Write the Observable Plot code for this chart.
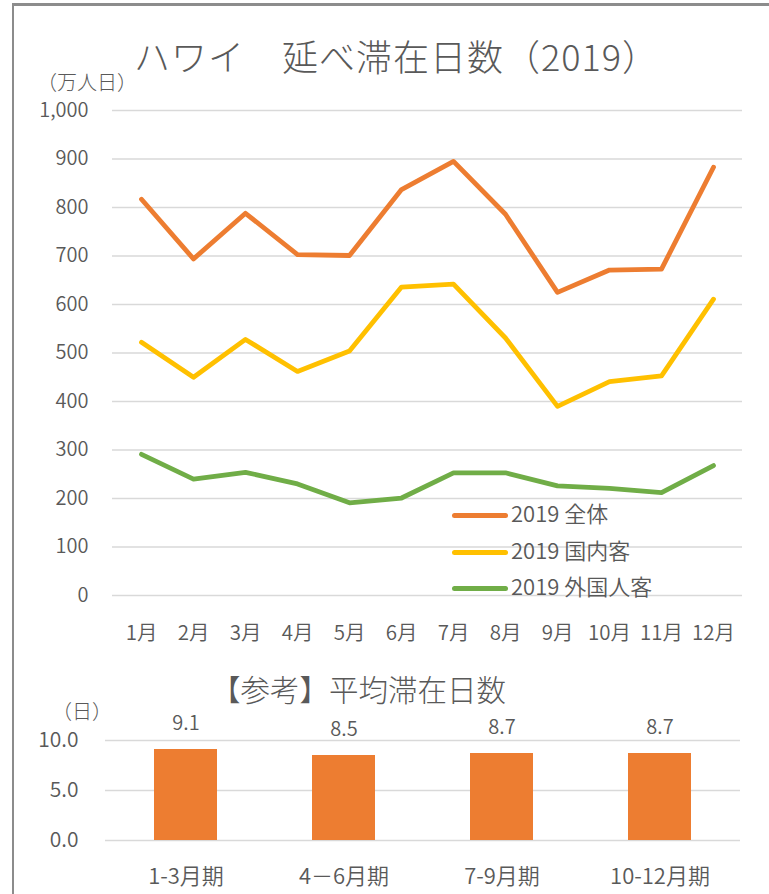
<!DOCTYPE html>
<html><head><meta charset="utf-8">
<script src="https://cdn.jsdelivr.net/npm/d3@7"></script>
<script src="https://cdn.jsdelivr.net/npm/@observablehq/plot@0.6"></script>
<style>
body{margin:0;background:#fff;overflow:hidden;}
#wrap{position:relative;width:769px;height:894px;overflow:hidden;font-family:"Noto Sans CJK JP","Noto Sans",sans-serif;font-weight:350;color:#595959;background:#fff;}
#frame{position:absolute;left:12px;top:3px;width:800px;height:900px;border-left:2.5px solid #8c8c8c;border-top:3px solid #8c8c8c;}
.abs{position:absolute;white-space:nowrap;}
#title{left:134px;top:34px;font-size:36px;line-height:42px;letter-spacing:1px;font-weight:300;}
#unit1{left:37px;top:71px;font-size:20px;line-height:21px;font-weight:300;}
#title2{left:211px;top:670px;font-size:29.5px;line-height:36px;font-weight:300;}
#unit2{left:52px;top:700px;font-size:20px;line-height:21px;font-weight:300;}
#top,#bottom{position:absolute;left:0;}
#top{top:0;}
#bottom{top:700px;}
.leg{position:absolute;left:452px;height:26px;line-height:26px;font-size:22px;white-space:nowrap;}
.sw{display:inline-block;width:56px;height:5px;border-radius:3px;vertical-align:middle;margin-right:3px;position:relative;top:-1px;}
svg text{font-weight:350;}
</style>
</head><body>
<div id="wrap">
  <div id="frame"></div>
  <div id="top"></div>
  <div id="bottom"></div>
  <div class="abs" id="title">ハワイ　延べ滞在日数（2019）</div>
  <div class="abs" id="unit1">（万人日）</div>
  <div id="legend"></div>
  <div class="abs" id="title2">【参考】平均滞在日数</div>
  <div class="abs" id="unit2">（日）</div>
</div>
<script>
const months = ["1月","2月","3月","4月","5月","6月","7月","8月","9月","10月","11月","12月"];
const seriesNames = ["2019 全体","2019 国内客","2019 外国人客"];
const seriesColors = ["#ED7D31","#FFC000","#70AD47"];
const total    = [817, 694, 788, 703, 701, 837, 895, 786, 625, 671, 673, 883];
const domestic = [522, 450, 528, 462, 504, 636, 642, 531, 390, 441, 453, 611];
const foreign  = [291, 240, 254, 230, 191, 201, 253, 253, 226, 221, 212, 268];
const yTicks = [0,100,200,300,400,500,600,700,800,900,1000];

const quarters = ["1-3月期","4－6月期","7-9月期","10-12月期"];
const avgStay = [9.1, 8.5, 8.7, 8.7];
const bTicks = [0, 5, 10];

const seriesValues = [total, domestic, foreign];
const lineData = [];
seriesNames.forEach((s, i) => months.forEach((m, j) => lineData.push({series: s, month: m, value: seriesValues[i][j]})));
const barData = quarters.map((q, i) => ({q, v: avgStay[i]}));

const FONT = '"Noto Sans CJK JP","Noto Sans",sans-serif';

const topPlot = Plot.plot({
  width: 769, height: 660,
  marginLeft: 112, marginRight: 27, marginTop: 110, marginBottom: 65,
  style: {fontFamily: FONT, color: "#595959", background: "transparent", overflow: "visible"},
  x: {type: "point", domain: months, padding: 0.5},
  y: {domain: [0, 1000]},
  color: {domain: seriesNames, range: seriesColors},
  marks: [
    Plot.ruleY(yTicks, {stroke: "#d9d9d9", strokeWidth: 1.5}),
    Plot.axisY(yTicks, {tickSize: 0, tickPadding: 24, fontSize: 20, tickFormat: d3.format(","), label: null}),
    Plot.axisX({tickSize: 0, tickPadding: 30, fontSize: 20.5, label: null}),
    Plot.line(lineData, {x: "month", y: "value", z: "series", stroke: "series", strokeWidth: 4.8, strokeLinecap: "round", strokeLinejoin: "round"})
  ]
});
document.getElementById("top").appendChild(topPlot);

const legendTops = [499, 536, 572];
const legend = document.getElementById("legend");
seriesNames.forEach((s, i) => {
  const d = document.createElement("div");
  d.className = "leg";
  d.style.top = legendTops[i] + "px";
  d.innerHTML = `<span class="sw" style="background:${seriesColors[i]}"></span>${s}`;
  legend.appendChild(d);
});

const bottomPlot = Plot.plot({
  width: 769, height: 194,
  marginLeft: 105, marginRight: 29, marginTop: 40, marginBottom: 54,
  style: {fontFamily: FONT, color: "#595959", background: "transparent", overflow: "visible"},
  x: {type: "band", domain: quarters, paddingInner: 0.6, paddingOuter: 0.3},
  y: {domain: [0, 10]},
  marks: [
    Plot.ruleY(bTicks, {stroke: "#d9d9d9", strokeWidth: 1.5}),
    Plot.barY(barData, {x: "q", y: "v", fill: "#ED7D31"}),
    Plot.text(barData, {x: "q", y: "v", text: d => d.v.toFixed(1), dy: -26, fontSize: 20, fill: "#595959"}),
    Plot.axisY(bTicks, {tickSize: 0, tickPadding: 27, fontSize: 21, tickFormat: d3.format(".1f"), label: null}),
    Plot.axisX({tickSize: 0, tickPadding: 28, fontSize: 22, label: null})
  ]
});
document.getElementById("bottom").appendChild(bottomPlot);
</script>
</body></html>
